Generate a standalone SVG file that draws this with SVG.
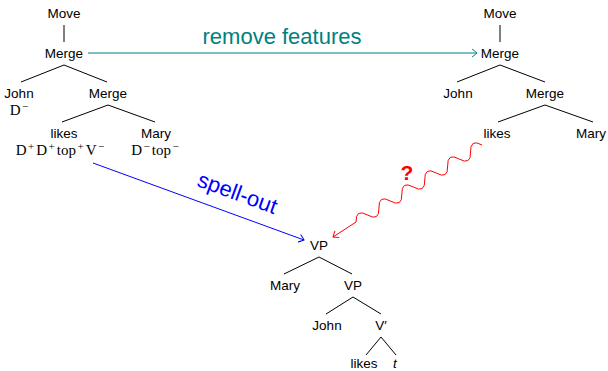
<svg xmlns="http://www.w3.org/2000/svg" width="608" height="371" viewBox="0 0 608 371">
  <style>
    .lbl { font-family: "Liberation Sans", Arial, sans-serif; font-size: 13.5px; fill: #000; text-anchor: middle; }
    .feat { font-family: "Liberation Serif", "Times New Roman", serif; font-size: 15px; fill: #000; text-anchor: middle; }
    .sup { font-size: 11px; }
    .edge { stroke: #000; stroke-width: 1; fill: none; }
  </style>
  <defs>
    <marker id="arrTeal" viewBox="-6 -5 8 10" markerWidth="8" markerHeight="10" refX="0" refY="0" orient="auto" markerUnits="userSpaceOnUse">
      <path d="M-5,-4 Q-1,-1 0,0 Q-1,1 -5,4" fill="none" stroke="#008080" stroke-width="1"/>
    </marker>
    <marker id="arrBlue" viewBox="-6 -5 8 10" markerWidth="8" markerHeight="10" refX="0" refY="0" orient="auto" markerUnits="userSpaceOnUse">
      <path d="M-5,-4 Q-1,-1 0,0 Q-1,1 -5,4" fill="none" stroke="#0000ff" stroke-width="1"/>
    </marker>
    <marker id="arrRed" viewBox="-6 -5 8 10" markerWidth="8" markerHeight="10" refX="0" refY="0" orient="auto" markerUnits="userSpaceOnUse">
      <path d="M-5,-4 Q-1,-1 0,0 Q-1,1 -5,4" fill="none" stroke="#ff0000" stroke-width="1"/>
    </marker>
  </defs>

  <!-- left tree -->
  <g id="left-tree">
    <text class="lbl" x="64" y="18">Move</text>
    <text class="lbl" x="64" y="58">Merge</text>
    <g>
      <text class="lbl" x="19" y="98">John</text>
      <text class="feat" x="19" y="115">D<tspan class="sup" dx="1.5" baseline-shift="5">−</tspan></text>
    </g>
    <text class="lbl" x="108" y="98">Merge</text>
    <g>
      <text class="lbl" x="64" y="138">likes</text>
      <text class="feat" x="60" y="155">D<tspan class="sup" dx="1.5" baseline-shift="5">+</tspan><tspan dx="2">D</tspan><tspan class="sup" dx="1.5" baseline-shift="5">+</tspan><tspan dx="2">top</tspan><tspan class="sup" dx="1.5" baseline-shift="5">+</tspan><tspan dx="2">V</tspan><tspan class="sup" dx="1.5" baseline-shift="5">−</tspan></text>
    </g>
    <g>
      <text class="lbl" x="156" y="138">Mary</text>
      <text class="feat" x="155" y="155">D<tspan class="sup" dx="1.5" baseline-shift="5">−</tspan><tspan dx="2">top</tspan><tspan class="sup" dx="1.5" baseline-shift="5">−</tspan></text>
    </g>
    <path class="edge" d="M64,25 V42 M64,65 L21,82 M64,65 L107,82 M108,105 L62,122 M108,105 L155,122"/>
  </g>

  <!-- right tree -->
  <g id="right-tree">
    <text class="lbl" x="500" y="18">Move</text>
    <text class="lbl" x="500" y="58">Merge</text>
    <text class="lbl" x="458" y="98">John</text>
    <text class="lbl" x="545" y="98">Merge</text>
    <text class="lbl" x="497" y="138">likes</text>
    <text class="lbl" x="591" y="138">Mary</text>
    <path class="edge" d="M500,25 V42 M500,65 L457,82 M500,65 L545,82 M545,105 L498,122 M545,105 L593,122"/>
  </g>

  <!-- bottom tree -->
  <g id="vp-tree">
    <text class="lbl" x="319" y="250">VP</text>
    <text class="lbl" x="285" y="290">Mary</text>
    <text class="lbl" x="353" y="290">VP</text>
    <text class="lbl" x="327" y="330">John</text>
    <text class="lbl" x="381" y="330">V′</text>
    <text class="lbl" x="364" y="368">likes</text>
    <text class="lbl" x="395" y="368" font-style="italic">t</text>
    <path class="edge" d="M319,257 L284,274 M319,257 L352,274 M353,297 L326,314 M353,297 L381,314 M381,337 L366,355 M381,337 L396,355"/>
  </g>

  <!-- connectors -->
  <g id="connectors">
    <line x1="88" y1="53" x2="477" y2="53" stroke="#008080" stroke-width="1.2" marker-end="url(#arrTeal)"/>
    <text x="282" y="44" font-family="Liberation Sans, Arial, sans-serif" font-size="22" fill="#008080" text-anchor="middle">remove features</text>

    <line x1="93" y1="163" x2="304" y2="240" stroke="#0000ff" stroke-width="1" marker-end="url(#arrBlue)"/>
    <text x="0" y="0" font-family="Liberation Sans, Arial, sans-serif" font-size="22" fill="#0000ff" text-anchor="middle" transform="translate(235,200) rotate(20)">spell-out</text>

    <path d="M482,145 Q470.02,138.26 470.55,152.0 T459.10,159.0 T447.65,166.0 T436.20,173.0 T424.75,180.0 T413.30,187.0 T401.85,194.0 T390.40,201.0 T378.95,208.0 T367.50,215.0 T356.05,222.0 L333,237" fill="none" stroke="#ff0000" stroke-width="1" marker-end="url(#arrRed)"/>
    <text x="407" y="180" font-family="Liberation Sans, Arial, sans-serif" font-size="21" font-weight="bold" fill="#ff0000" text-anchor="middle">?</text>
  </g>
</svg>
